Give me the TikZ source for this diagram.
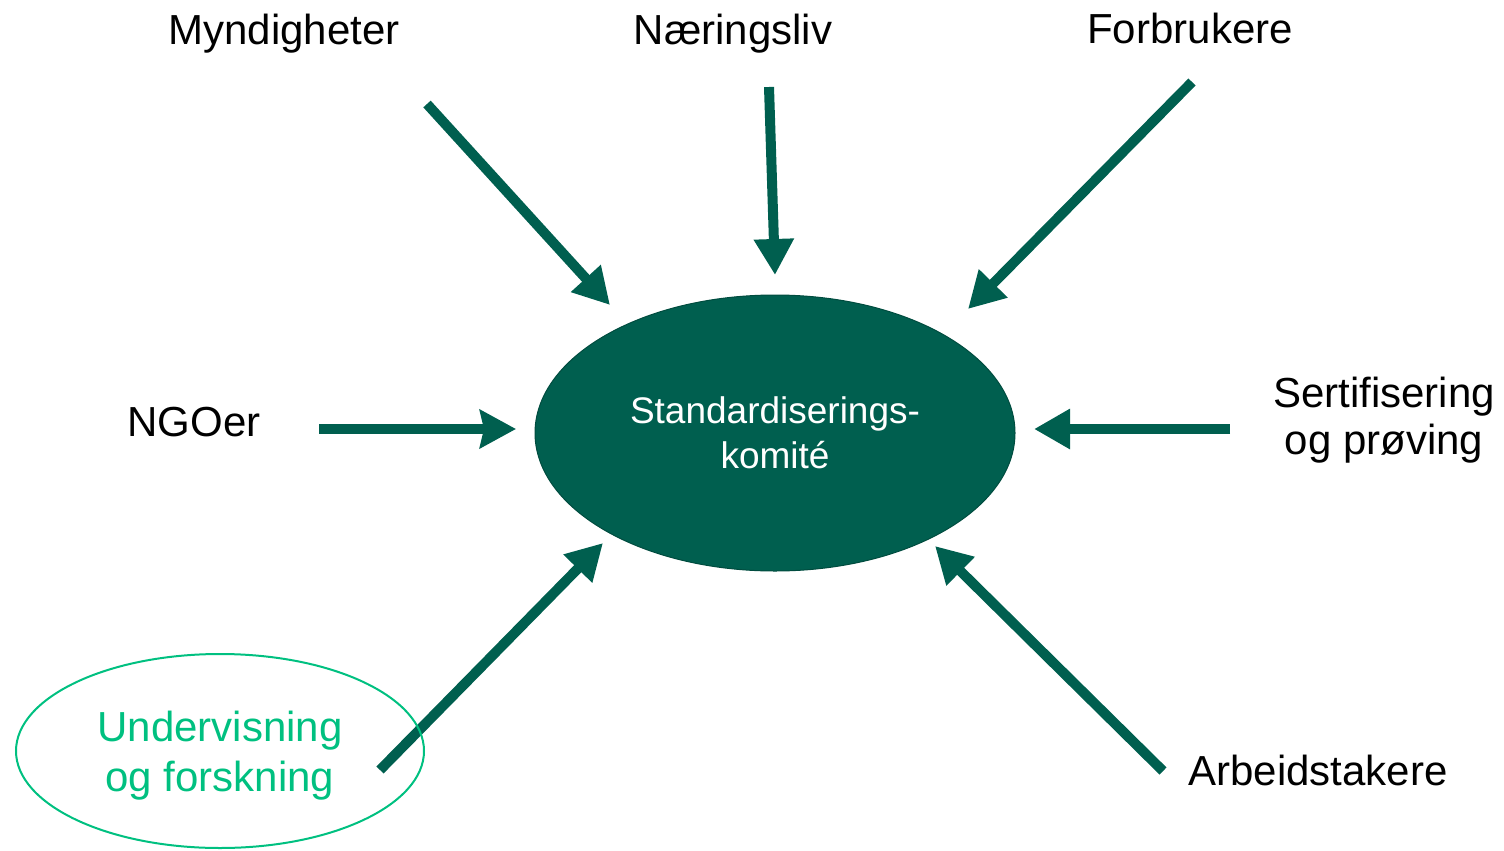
\documentclass[tikz,border=0pt]{standalone}
\usepackage{fontspec}
\setmainfont{Liberation Sans}
\usetikzlibrary{arrows.meta,shapes.geometric}
\definecolor{dgreen}{HTML}{005F4F}
\definecolor{lgreen}{HTML}{00C080}
\begin{document}
\begin{tikzpicture}[x=1pt,y=-1pt,
  lbl/.style={font=\fontsize{42}{48}\selectfont, align=center, inner sep=0pt, text=black},
  inarrow/.style={draw=dgreen, line width=10pt, -{Triangle[length=36pt,width=38pt]}, color=dgreen},
  ngoarrow/.style={draw=dgreen, line width=10pt, -{Stealth[length=36pt,width=38pt,inset=4pt]}, color=dgreen}]
\useasboundingbox (0,0) rectangle (1504,851);
% central ellipse
\node[ellipse, draw=dgreen!80!black, line width=1pt, fill=dgreen, minimum width=480pt, minimum height=276pt, inner sep=0pt,
  text=white, font=\fontsize{37}{45}\selectfont, align=center] (komite) at (775,433) {Standardiserings-\\komité};
% labels
\node[lbl] (myndigheter) at (284,34) {Myndigheter};
\node[lbl] (naeringsliv) at (733,34) {Næringsliv};
\node[lbl] (forbrukere) at (1190,28) {Forbrukere};
\node[lbl] (ngoer) at (194,422) {NGOer};
\node[lbl, font=\fontsize{42}{47}\selectfont] (sertifisering) at (1384,420) {Sertifisering\\og prøving};
\node[lbl] (arbeidstakere) at (1318,770) {Arbeidstakere};
% arrow coordinates
\coordinate (m1) at (427,104); \coordinate (m2) at (610,305);
\coordinate (n1) at (769,87);  \coordinate (n2) at (775,275);
\coordinate (f1) at (1192,82); \coordinate (f2) at (968,309);
\coordinate (g1) at (319,429); \coordinate (g2) at (516,429);
\coordinate (s1) at (1230,429); \coordinate (s2) at (1034,429);
\coordinate (u1) at (380,770); \coordinate (u2) at (603,543);
\coordinate (a1) at (1163,771); \coordinate (a2) at (935,546);
\draw[inarrow] (m1) -- (m2);
\draw[inarrow] (n1) -- (n2);
\draw[inarrow] (f1) -- (f2);
\draw[ngoarrow] (g1) -- (g2);
\draw[inarrow] (s1) -- (s2);
\draw[inarrow] (u1) -- (u2);
\draw[inarrow] (a1) -- (a2);
% education ellipse (drawn over the arrow)
\node[ellipse, draw=lgreen, line width=2pt, minimum width=408pt, minimum height=194pt, inner sep=0pt] (undervisning) at (220,751) {};
\node[lbl, text=lgreen, font=\fontsize{42}{50}\selectfont] (undtext) at (220,756) {Undervisning\\og forskning};
\end{tikzpicture}
\end{document}
